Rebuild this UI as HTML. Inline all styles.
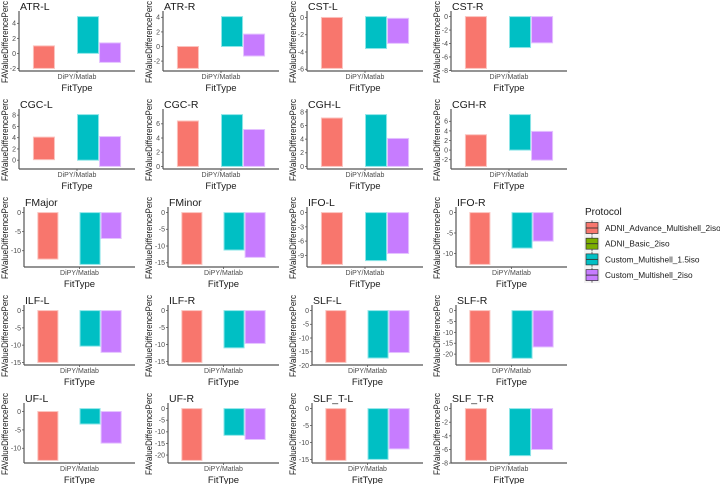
<!DOCTYPE html>
<html><head><meta charset="utf-8"><style>
body{margin:0;background:#fff;}
svg{display:block;font-family:"Liberation Sans",sans-serif;}
</style></head><body>
<svg id="chart" width="720" height="484" viewBox="0 0 720 484" xmlns="http://www.w3.org/2000/svg"></svg>
<script>
const panels = ["ATR-L","ATR-R","CST-L","CST-R","CGC-L","CGC-R","CGH-L","CGH-R","FMajor","FMinor","IFO-L","IFO-R","ILF-L","ILF-R","SLF-L","SLF-R","UF-L","UF-R","SLF_T-L","SLF_T-R"];
const series = ["ADNI_Advance_Multishell_2iso","ADNI_Basic_2iso","Custom_Multishell_1.5iso","Custom_Multishell_2iso"];
const adniAdvLow  = [-2,-3,-5.9,-7.7,0.1,0,0,-3.4,-12.2,-15.5,-10.9,-12.7,-15,-15.3,-18.9,-23.8,-13.3,-22.3,-15.3,-7.6];
const adniAdvHigh = [1,0,0,0,4.1,6.4,7.1,3.2,0,0,0,0,0,0,0,0,0,0,0,0];
const cust15Low   = [0,0,-3.6,-4.6,0,0,0,0,-13.6,-11.2,-10.1,-8.7,-10.3,-11,-17.3,-21.9,-3.4,-11.5,-15,-6.9];
const cust15High  = [4.9,4.1,0.1,0,8.1,7.3,7.6,7.4,0,0,0,0,0,0,0,0,0.8,0,0,0];
const cust2Low    = [-1.2,-1.3,-3.0,-3.9,-1.1,0,0,-2.1,-6.8,-13.4,-8.6,-7,-12.1,-9.7,-15.3,-16.7,-8.6,-13.3,-11.9,-6];
const cust2High   = [1.4,1.7,-0.1,0,4.2,5.2,4.1,3.9,0,0,0,0,0,0,0,0,0,0,0,0];
const yTicks = [[-2,0,2,4],[-2,0,2,4],[-6,-4,-2,0],[-8,-6,-4,-2,0],[0,2,4,6,8],[0,2,4,6],[0,2,4,6,8],[-2,0,2,4,6],[-10,-5,0],[-15,-10,-5,0],[-9,-6,-3,0],[-10,-5,0],[-15,-10,-5,0],[-15,-10,-5,0],[-20,-15,-10,-5,0],[-20,-15,-10,-5,0],[-10,-5,0],[-20,-15,-10,-5,0],[-15,-10,-5,0],[-8,-6,-4,-2,0]];
const colors = ["#F8766D","#7CAE00","#00BFC4","#C77CFF"];
const strokes = ["#fbc2bd","#c5dd8a","#8ee6e8","#e4c2ff"];

const NS="http://www.w3.org/2000/svg";
const svg=document.getElementById('chart');
function mk(tag,attrs,parent){const e=document.createElementNS(NS,tag);for(const k in attrs)e.setAttribute(k,attrs[k]);(parent||svg).appendChild(e);return e;}

panels.forEach((name,i)=>{
  const col=i%4,row=Math.floor(i/4);
  const ox=col*144, oy=row*98;
  const g=mk('g',{});
  
  
  const ticks=yTicks[i];
  const maxLen=Math.max(...ticks.map(t=>String(t).length));
  const ax=ox+(maxLen>=3?24:19);
  const right=ox+135;
  const top=oy+14,bot=oy+71;
  const lows=[adniAdvLow[i],null,cust15Low[i],cust2Low[i]];
  const highs=[adniAdvHigh[i],null,cust15High[i],cust2High[i]];
  const vals=[...lows,...highs].filter(v=>v!==null);
  let mn=Math.min(...vals),mx=Math.max(...vals);
  const pad=(mx-mn)*0.05; mn-=pad; mx+=pad;
  const ys=v=>bot-(v-mn)/(mx-mn)*(bot-top);
  const plotW=right-ax;
  const xs=f=>ax+f*plotW;
  const t=mk('text',{x:ax+1,y:oy+10,'font-size':'10.5','fill':'#1a1a1a'},g);t.textContent=name;
  
  
  const groupW=plotW*0.19;
  const center=xs(0.5);
  for(let s=0;s<4;s++){
    if(lows[s]===null)continue;
    const cx=center+(s-1.5)*groupW;
    const r=mk('rect',{x:cx-groupW/2+0.5,y:ys(highs[s]),width:groupW-1,height:Math.max(1,ys(lows[s])-ys(highs[s])),fill:colors[s],stroke:strokes[s],'stroke-width':'1'},g);
    
    
  }
  const yl=mk('line',{x1:ax,y1:top-3,x2:ax,y2:bot,stroke:'#555','stroke-width':'1.2'},g);
  
  
  const xl=mk('line',{x1:ax,y1:bot,x2:right,y2:bot,stroke:'#555','stroke-width':'1.2'},g);
  
  
  ticks.forEach(tv=>{
    const y=ys(tv);
    mk('line',{x1:ax-2,y1:y,x2:ax,y2:y,stroke:'#555','stroke-width':'0.8'},g);
    const tl=mk('text',{x:ax-3,y:y+2.4,'font-size':'7','fill':'#4d4d4d','text-anchor':'end'},g);
    tl.textContent=tv;
    
    
  });
  mk('line',{x1:center,y1:bot,x2:center,y2:bot+2,stroke:'#555','stroke-width':'0.8'},g);
  const xt=mk('text',{x:center,y:oy+79,'font-size':'7','fill':'#4d4d4d','text-anchor':'middle'},g);
  xt.textContent='DiPY/Matlab';
  
  
  const xa=mk('text',{x:center,y:oy+91,'font-size':'9.5','fill':'#1a1a1a','text-anchor':'middle'},g);
  xa.textContent='FitType';
  
  
  const ya=mk('text',{x:0,y:0,'font-size':'9','fill':'#1a1a1a','text-anchor':'middle',textLength:'82',lengthAdjust:'spacingAndGlyphs',transform:`translate(${ox+8},${oy+42}) rotate(-90)`},g);
  ya.textContent='FAValueDifferencePerc';
  
  
});

const lg=mk('g',{});


const lt=mk('text',{x:585,y:215,'font-size':'10','fill':'#1a1a1a'},lg);
lt.textContent='Protocol';


series.forEach((s,k)=>{
  const cy=228+k*15.7;
  const e=mk('g',{},lg);
  
  
  mk('rect',{x:584,y:cy-8,width:16,height:16,fill:'#f2f2f2'},e);
  mk('rect',{x:586,y:cy-5.5,width:12,height:11,fill:colors[k],stroke:'#333','stroke-width':'0.7'},e);
  mk('line',{x1:586,y1:cy,x2:598,y2:cy,stroke:'#333','stroke-width':'0.9'},e);
  mk('line',{x1:592,y1:cy-7.5,x2:592,y2:cy-5.5,stroke:'#333','stroke-width':'0.7'},e);
  mk('line',{x1:592,y1:cy+5.5,x2:592,y2:cy+7.5,stroke:'#333','stroke-width':'0.7'},e);
  const tx=mk('text',{x:605,y:cy+3,'font-size':'8.3','fill':'#1a1a1a'},e);
  tx.textContent=s;
});
</script>
</body></html>
